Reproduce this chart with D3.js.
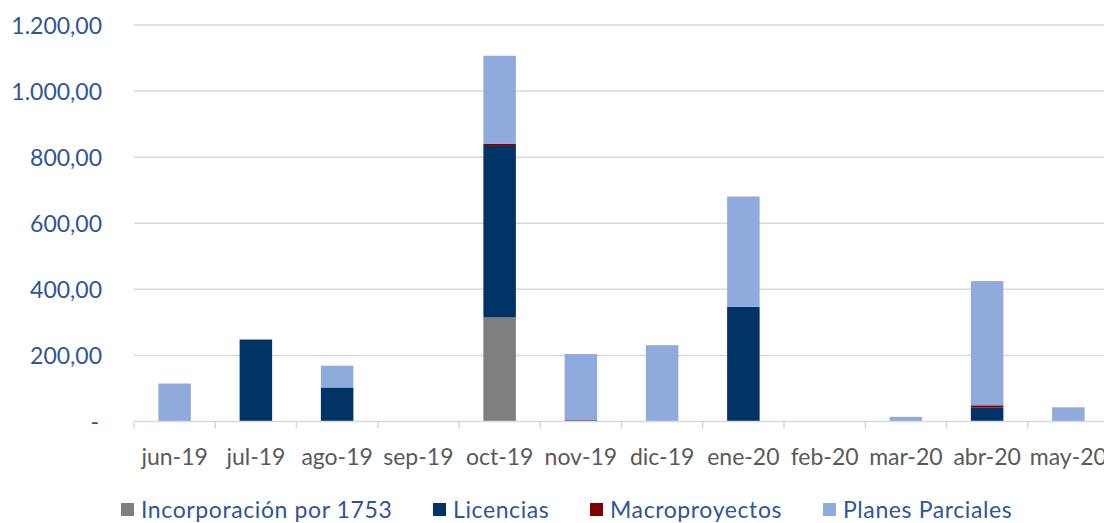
<!DOCTYPE html>
<html><head><meta charset="utf-8">
<script src="https://cdn.jsdelivr.net/npm/d3@7"></script>
<style>body{margin:0;background:#fff;} svg{display:block;font-family:Lato, sans-serif;}</style>
</head><body>
<svg id="c" width="1104" height="523"></svg>
<script>
const categories = ["jun-19","jul-19","ago-19","sep-19","oct-19","nov-19","dic-19","ene-20","feb-20","mar-20","abr-20","may-20"];
const seriesNames = ["Incorporación por 1753","Licencias","Macroproyectos","Planes Parciales"];
const incorporacion = [0,0,0,0,315,0,0,0,0,0,0,0];
const licencias     = [0,248,103,0,519,0,0,347,0,0,42,0];
const macroproyectos= [0,0,0,0,6,4,0,0,0,0,7,0];
const planes        = [115,0,66,0,267,200,231,334,0,14,376,43];
const yTicks = [0,200,400,600,800,1000,1200];
const colors = ["#7f7f7f","#003366","#7f0000","#8faadc"];

const svg = d3.select("#c");
const m = {left:134, top:25, bottom:421.5};
const plotRight = 1109;
const x = d3.scaleBand().domain(categories).range([m.left, plotRight]).paddingInner(0.6).paddingOuter(0.3);
const y = d3.scaleLinear().domain([0,1200]).range([m.bottom, m.top]);

const loc = d3.formatLocale({decimal:",", thousands:".", grouping:[3], currency:["",""]});
const fmt = v => v===0 ? "-" : loc.format(",.2f")(v);

// gridlines
svg.append("g").selectAll("line").data(yTicks.filter(d=>d>0)).join("line")
  .attr("x1",m.left).attr("x2",plotRight).attr("y1",d=>y(d)).attr("y2",d=>y(d))
  .attr("stroke","#d9d9d9").attr("stroke-width",1.5);

// y axis labels
const yAxis = d3.axisLeft(y).tickValues(yTicks).tickFormat(fmt).tickSize(0).tickPadding(0);
const yg = svg.append("g").attr("transform",`translate(102,0)`).call(yAxis);
yg.select(".domain").remove();
yg.selectAll("text").attr("fill","#2f5597").style("font-size","23px").style("font-family","Lato, sans-serif").attr("dy","0.35em");
yg.selectAll(".tick").filter(d=>d===0).select("text").attr("dx","-3");

// stacked bars
const rows = categories.map((c,i)=>({cat:c, s0:incorporacion[i], s1:licencias[i], s2:macroproyectos[i], s3:planes[i]}));
const stack = d3.stack().keys(["s0","s1","s2","s3"]);
const layers = stack(rows);
svg.append("g").selectAll("g").data(layers).join("g").attr("fill",(d,i)=>colors[i])
  .selectAll("rect").data(d=>d).join("rect")
  .attr("x",d=>x(d.data.cat)).attr("width",x.bandwidth())
  .attr("y",d=>y(d[1])).attr("height",d=>Math.max(0,y(d[0])-y(d[1])));

// x axis
const bandStep = x.step();
const xg = svg.append("g");
xg.append("line").attr("x1",m.left).attr("x2",plotRight).attr("y1",m.bottom).attr("y2",m.bottom).attr("stroke","#d9d9d9").attr("stroke-width",1.5);
const tickXs = categories.map((c,i)=>m.left + i*bandStep);
xg.selectAll("line.t").data(tickXs).join("line").attr("class","t")
  .attr("x1",d=>d).attr("x2",d=>d).attr("y1",m.bottom).attr("y2",m.bottom+7).attr("stroke","#d9d9d9").attr("stroke-width",1.5);
xg.selectAll("text").data(categories).join("text")
  .attr("x",d=>x(d)+x.bandwidth()/2).attr("y",465).attr("text-anchor","middle")
  .attr("fill","#595959").style("font-size","23px").text(d=>d);

// legend
const legX = [121,433,590,823];
const lg = svg.append("g").selectAll("g").data(seriesNames).join("g").attr("transform",(d,i)=>`translate(${legX[i]},0)`);
lg.append("rect").attr("x",0).attr("y",503).attr("width",13).attr("height",13).attr("fill",(d,i)=>colors[i]);
lg.append("text").attr("x",20).attr("y",518).attr("fill","#2f5597").style("font-size","23px").style("letter-spacing","0.6px").text(d=>d);
</script>
</body></html>
